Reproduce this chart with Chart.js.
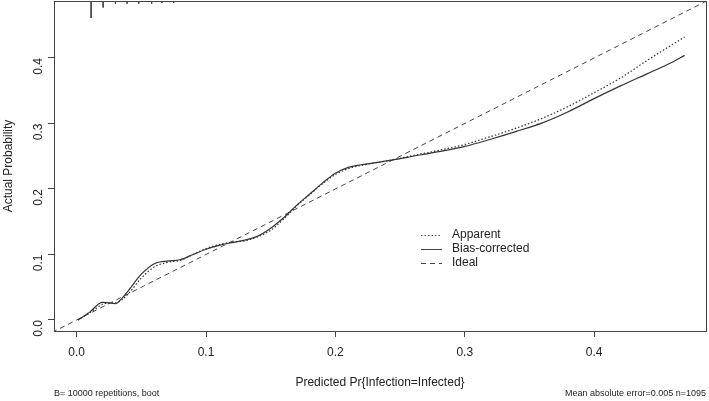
<!DOCTYPE html>
<html lang="en">
<head>
<meta charset="UTF-8">
<title>Calibration curve</title>
<script src="https://cdn.jsdelivr.net/npm/chart.js"></script>
<style>
  body { margin: 0; background: #fff; }
  #wrap { width: 709px; height: 401px; }
</style>
</head>
<body>
<div id="wrap"><canvas id="myChart" width="709" height="401"></canvas></div>
<script>
  // predicted probability grid shared by both curves
  const predX = [0.001, 0.01, 0.02, 0.025, 0.03, 0.035, 0.04, 0.05, 0.06, 0.07, 0.08, 0.09, 0.10,
    0.11, 0.12, 0.13, 0.14, 0.15, 0.16, 0.17, 0.18, 0.19, 0.20, 0.21, 0.22, 0.24, 0.26, 0.28,
    0.30, 0.32, 0.34, 0.36, 0.38, 0.40, 0.42, 0.44, 0.46, 0.47];
  const apparentY = [0.0, 0.011, 0.024, 0.026, 0.026, 0.031, 0.040, 0.064, 0.081, 0.088, 0.091, 0.100, 0.109,
    0.115, 0.119, 0.121, 0.127, 0.137, 0.154, 0.174, 0.191, 0.208, 0.222, 0.231, 0.236, 0.243, 0.251, 0.259,
    0.268, 0.280, 0.293, 0.308, 0.326, 0.347, 0.369, 0.395, 0.420, 0.432];
  const biasY = [0.0, 0.012, 0.027, 0.026, 0.025, 0.033, 0.045, 0.070, 0.086, 0.090, 0.092, 0.100, 0.108,
    0.114, 0.118, 0.122, 0.128, 0.140, 0.156, 0.175, 0.192, 0.209, 0.224, 0.233, 0.237, 0.243, 0.250, 0.257,
    0.265, 0.276, 0.288, 0.301, 0.318, 0.338, 0.357, 0.375, 0.393, 0.404];
  const idealX = [-0.05, 0.55];
  // rug of predictions along the top (spike length in y units)
  const rugX = [0.0112, 0.0205, 0.030, 0.039, 0.048, 0.058, 0.066, 0.075];
  const rugH = [0.026, 0.010, 0.004, 0.004, 0.004, 0.004, 0.003, 0.003];
  const xTicks = [0.0, 0.1, 0.2, 0.3, 0.4];
  const yTicks = [0.0, 0.1, 0.2, 0.3, 0.4];
  const legendLabels = ['Apparent', 'Bias-corrected', 'Ideal'];
  const xMin = -0.0175, xMax = 0.4865, yMin = -0.0168, yMax = 0.487;

  const ink = '#333';
  const font = "'Liberation Sans', Arial, sans-serif";

  const pts = (xs, ys) => xs.map((x, i) => ({ x: x, y: ys[i] }));
  const rugPts = [];
  rugX.forEach((x, i) => {
    rugPts.push({ x: x, y: yMax }, { x: x, y: yMax - rugH[i] }, { x: x, y: null });
  });

  const dashes = [[1.5, 2], [], [5, 4]];

  // box, legend and footer notes
  const decor = {
    id: 'decor',
    afterDraw(chart) {
      const c = chart.ctx, a = chart.chartArea;
      c.save();
      c.strokeStyle = '#444';
      c.lineWidth = 1;
      c.strokeRect(a.left + 0.5, a.top + 0.5, a.right - a.left, a.bottom - a.top);

      c.fillStyle = '#222';
      c.font = '12px ' + font;
      c.textBaseline = 'middle';
      legendLabels.forEach((t, i) => {
        const y = 235 + i * 14;
        c.setLineDash(dashes[i]);
        c.beginPath();
        c.moveTo(421, y + 0.5);
        c.lineTo(442, y + 0.5);
        c.stroke();
        c.fillText(t, 452, y);
      });
      c.setLineDash([]);

      c.textAlign = 'center';
      c.fillText('Predicted Pr{Infection=Infected}', (a.left + a.right) / 2, 383);
      c.save();
      c.translate(9, (a.top + a.bottom) / 2);
      c.rotate(-Math.PI / 2);
      c.fillText('Actual Probability', 0, 0);
      c.restore();

      c.font = '9px ' + font;
      c.textAlign = 'left';
      c.fillText('B= 10000 repetitions, boot', 54, 394);
      c.textAlign = 'right';
      c.fillText('Mean absolute error=0.005 n=1095', a.right, 394);
      c.restore();
    }
  };

  const ctx = document.getElementById('myChart').getContext('2d');
  const chart = new Chart(ctx, {
    type: 'line',
    data: {
      datasets: [
        { label: 'Apparent', data: pts(predX, apparentY), borderColor: ink, borderWidth: 1.2,
          borderDash: dashes[0], pointRadius: 0, cubicInterpolationMode: 'monotone' },
        { label: 'Bias-corrected', data: pts(predX, biasY), borderColor: ink, borderWidth: 1.2,
          pointRadius: 0, cubicInterpolationMode: 'monotone' },
        { label: 'Ideal', data: pts(idealX, idealX), borderColor: '#444', borderWidth: 1,
          borderDash: dashes[2], pointRadius: 0 },
        { label: 'rug', data: rugPts, borderColor: '#444', borderWidth: 1, pointRadius: 0,
          spanGaps: false, tension: 0 }
      ]
    },
    options: {
      responsive: false,
      animation: false,
      layout: { padding: { left: 0, top: 1, right: 3, bottom: 0 } },
      plugins: { legend: { display: false }, tooltip: { enabled: false } },
      scales: {
        x: {
          type: 'linear', min: xMin, max: xMax,
          afterBuildTicks: s => { s.ticks = xTicks.map(v => ({ value: v })); },
          afterFit: s => { s.height = 70; s.paddingLeft = 0; s.paddingRight = 0; },
          grid: { drawOnChartArea: false, drawTicks: true, tickLength: 6, color: '#444' },
          border: { display: false },
          ticks: { padding: 8, color: '#222', font: { family: font, size: 12 },
            maxRotation: 0, callback: v => v.toFixed(1) }
        },
        y: {
          type: 'linear', min: yMin, max: yMax,
          afterBuildTicks: s => { s.ticks = yTicks.map(v => ({ value: v })); },
          afterFit: s => { s.width = 54; s.paddingTop = 0; s.paddingBottom = 0; },
          grid: { drawOnChartArea: false, drawTicks: true, tickLength: 6, color: '#444' },
          border: { display: false },
          ticks: { padding: 9, color: '#222', font: { family: font, size: 12 },
            minRotation: 90, maxRotation: 90, callback: v => v.toFixed(1) }
        }
      }
    },
    plugins: [decor]
  });
</script>
</body>
</html>
